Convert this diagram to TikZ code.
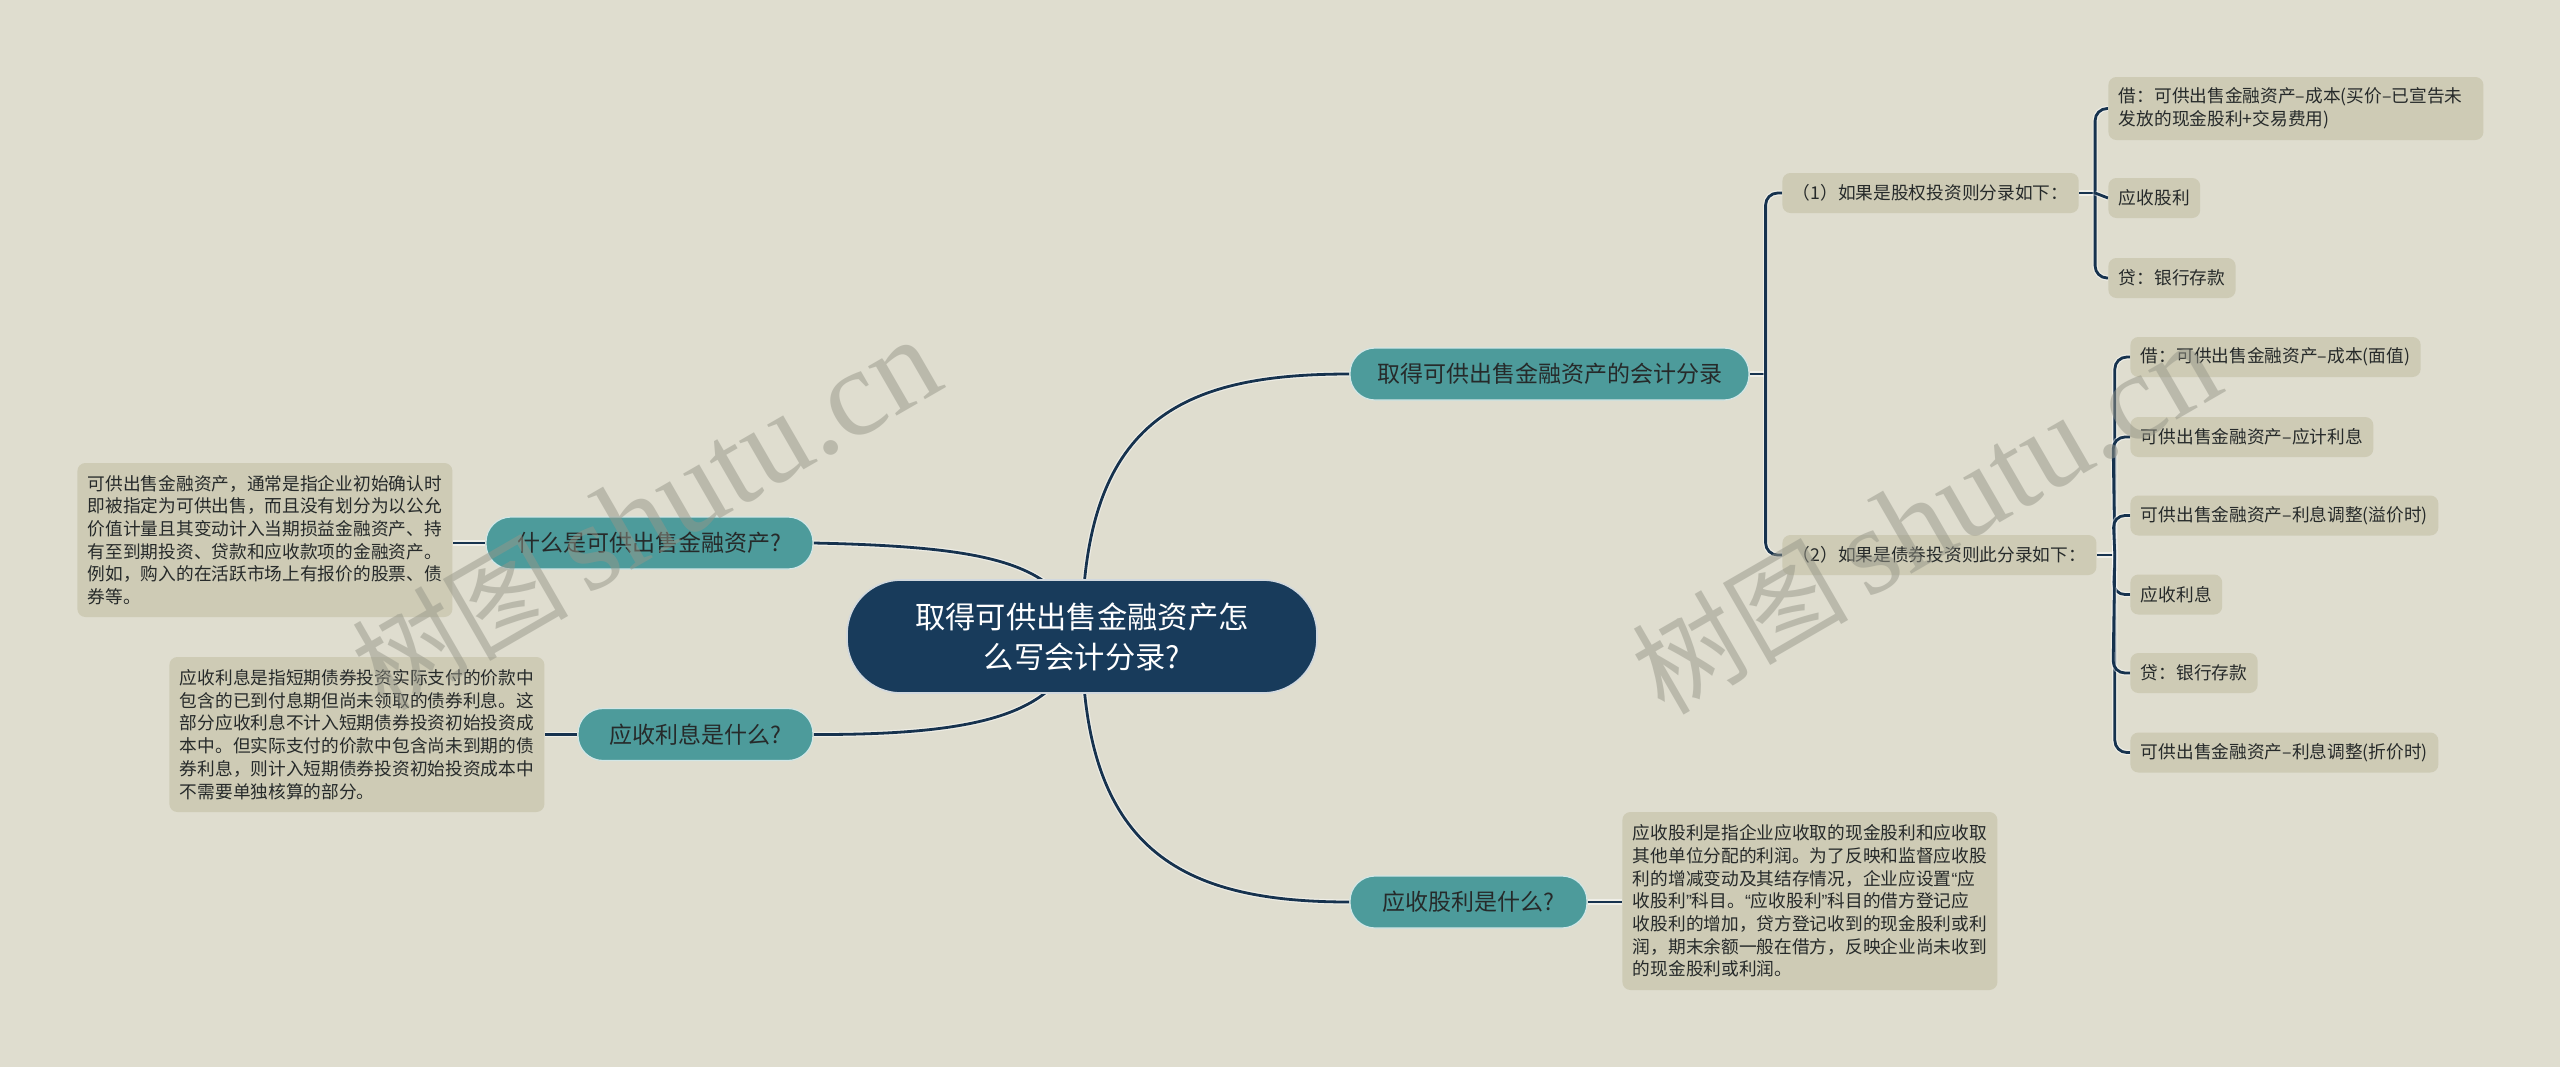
\documentclass[tikz,border=0pt]{standalone}
\usepackage{fontspec}
\setmainfont{Noto Sans CJK SC}
\newfontfamily\wmserif{Liberation Serif}
\newfontfamily\qfont{Liberation Sans}
\newcommand{\myLQ}{{\qfont “}}
\newcommand{\myRQ}{{\qfont ”}}
\definecolor{bgc}{RGB}{223,221,207}
\definecolor{leafc}{RGB}{206,203,181}
\definecolor{tealc}{RGB}{77,155,155}
\definecolor{navyc}{RGB}{24,59,91}
\definecolor{linec}{RGB}{22,50,78}
\definecolor{txtc}{RGB}{38,42,42}
\definecolor{wmc}{RGB}{150,150,137}
\pgfdeclarelayer{bglayer}
\pgfdeclarelayer{linelayer}
\pgfdeclarelayer{wmlayer}
\pgfsetlayers{bglayer,linelayer,main,wmlayer}
\begin{document}
\begin{tikzpicture}[x=0.5pt,y=-0.5pt,
 rootnode/.style={fill=navyc, draw=white!80!navyc, line width=0.8pt, rounded corners=27pt, minimum width=235pt, minimum height=56.5pt, text=white, align=center, font=\fontsize{15.15pt}{20pt}\selectfont, inner sep=0pt},
 branch/.style={fill=tealc, draw=white!75!tealc, line width=0.6pt, rounded corners=12.5pt, minimum height=26pt, text=txtc, font=\fontsize{11.5pt}{14pt}\selectfont, inner sep=0pt},
 leaf/.style={fill=leafc, rounded corners=4pt, text=txtc, font=\fontsize{8.85pt}{11.35pt}\selectfont, align=left, inner xsep=5.25pt, inner ysep=0pt, minimum height=20pt, anchor=west},
 desc/.style={leaf, text width=177pt},
 conn/.style={draw=linec, line width=1.4pt, preaction={draw=white, draw opacity=0.5, line width=2.6pt}},
 wm/.style={text=wmc, text opacity=0.5, rotate=30, font=\fontsize{54pt}{60pt}\selectfont, inner sep=0pt}
]
\useasboundingbox (0,0) rectangle (2560,1067);
\begin{pgfonlayer}{bglayer}
\fill[bgc] (0,0) rectangle (2560,1067);
\end{pgfonlayer}

% root and branches
\node[rootnode] (root) at (1082,636.5) {取得可供出售金融资产怎\\么写会计分录?};
\node[branch, minimum width=199.5pt] (b1) at (1549.5,374) {取得可供出售金融资产的会计分录};
\node[branch, minimum width=163.5pt] (b2) at (649.5,543) {什么是可供出售金融资产?};
\node[branch, minimum width=117.5pt] (b3) at (695.5,734.5) {应收利息是什么?};
\node[branch, minimum width=118.5pt] (b4) at (1468.5,902) {应收股利是什么?};

% description boxes
\node[desc, minimum height=77pt] (da) at (77,540) {可供出售金融资产，通常是指企业初始确认时\\即被指定为可供出售，而且没有划分为以公允\\价值计量且其变动计入当期损益金融资产、持\\有至到期投资、贷款和应收款项的金融资产。\\例如，购入的在活跃市场上有报价的股票、债\\券等。};
\node[desc, minimum height=77.5pt] (db) at (169,734.5) {应收利息是指短期债券投资实际支付的价款中\\包含的已到付息期但尚未领取的债券利息。这\\部分应收利息不计入短期债券投资初始投资成\\本中。但实际支付的价款中包含尚未到期的债\\券利息，则计入短期债券投资初始投资成本中\\不需要单独核算的部分。};
\node[desc, minimum height=89pt] (dc) at (1622,901) {应收股利是指企业应收取的现金股利和应收取\\其他单位分配的利润。为了反映和监督应收股\\利的增减变动及其结存情况，企业应设置\myLQ 应\\收股利\myRQ 科目。\myLQ 应收股利\myRQ 科目的借方登记应\\收股利的增加，贷方登记收到的现金股利或利\\润，期末余额一般在借方，反映企业尚未收到\\的现金股利或利润。};

% sub branches
\node[leaf] (s1) at (1782,193) {（1）如果是股权投资则分录如下：};
\node[leaf] (s2) at (1782,555) {（2）如果是债券投资则此分录如下：};

\node[desc, minimum height=31.5pt] (l1) at (2108,108.5) {借：可供出售金融资产–成本(买价–已宣告未\\发放的现金股利+交易费用)};
\node[leaf] (l2) at (2108,198) {应收股利};
\node[leaf] (l3) at (2108,278) {贷：银行存款};

\node[leaf] (m1) at (2130,357) {借：可供出售金融资产–成本(面值)};
\node[leaf] (m2) at (2130,437) {可供出售金融资产–应计利息};
\node[leaf] (m3) at (2130,515.5) {可供出售金融资产–利息调整(溢价时)};
\node[leaf] (m4) at (2130,594.5) {应收利息};
\node[leaf] (m5) at (2130,673) {贷：银行存款};
\node[leaf] (m6) at (2130,752.5) {可供出售金融资产–利息调整(折价时)};

\begin{pgfonlayer}{linelayer}
\draw[conn] (root.center) .. controls (1082,420) and (1180,374) .. (b1.west);
\draw[conn] (root.center) .. controls (1060,565) and (1000,547) .. (b2.east);
\draw[conn] (root.center) .. controls (1060,708) and (1000,735) .. (b3.east);
\draw[conn] (root.center) .. controls (1082,850) and (1180,902) .. (b4.west);
\draw[conn] (b2.west) -- (da.east |- b2.west);
\draw[conn] (b3.west) -- (db.east |- b3.west);
\draw[conn] (b4.east) -- (dc.west |- b4.east);
\draw[conn] (b1.east) -- ++(16,0) coordinate (j1);
\draw[conn, rounded corners=6pt] (s1.west) -| (j1) |- (s2.west);
\draw[conn] (s1.east) -- ++(16,0) coordinate (j2);
\draw[conn, rounded corners=6pt] (l1.west) -| (j2) |- (l3.west);
\draw[conn] (j2) -- (l2.west);
\draw[conn] (s2.east) -- ++(18,0) coordinate (j3);
\draw[conn, rounded corners=6pt] (m1.west) -| (j3) |- (m6.west);
\draw[conn, rounded corners=6pt] (m2.west) -- ++(-17,0) -- (j3);
\draw[conn, rounded corners=6pt] (m3.west) -- ++(-17,0) -- (j3);
\draw[conn, rounded corners=6pt] (m4.west) -- ++(-17,0) -- (j3);
\draw[conn, rounded corners=6pt] (m5.west) -- ++(-17,0) -- (j3);
\end{pgfonlayer}

\begin{pgfonlayer}{wmlayer}
\node[wm] (w1) at (646,514) {树图\,{\wmserif\fontsize{62pt}{62pt}\selectfont shutu.cn}};
\node[wm] (w2) at (1926,518) {树图\,{\wmserif\fontsize{62pt}{62pt}\selectfont shutu.cn}};
\end{pgfonlayer}
\end{tikzpicture}
\end{document}
